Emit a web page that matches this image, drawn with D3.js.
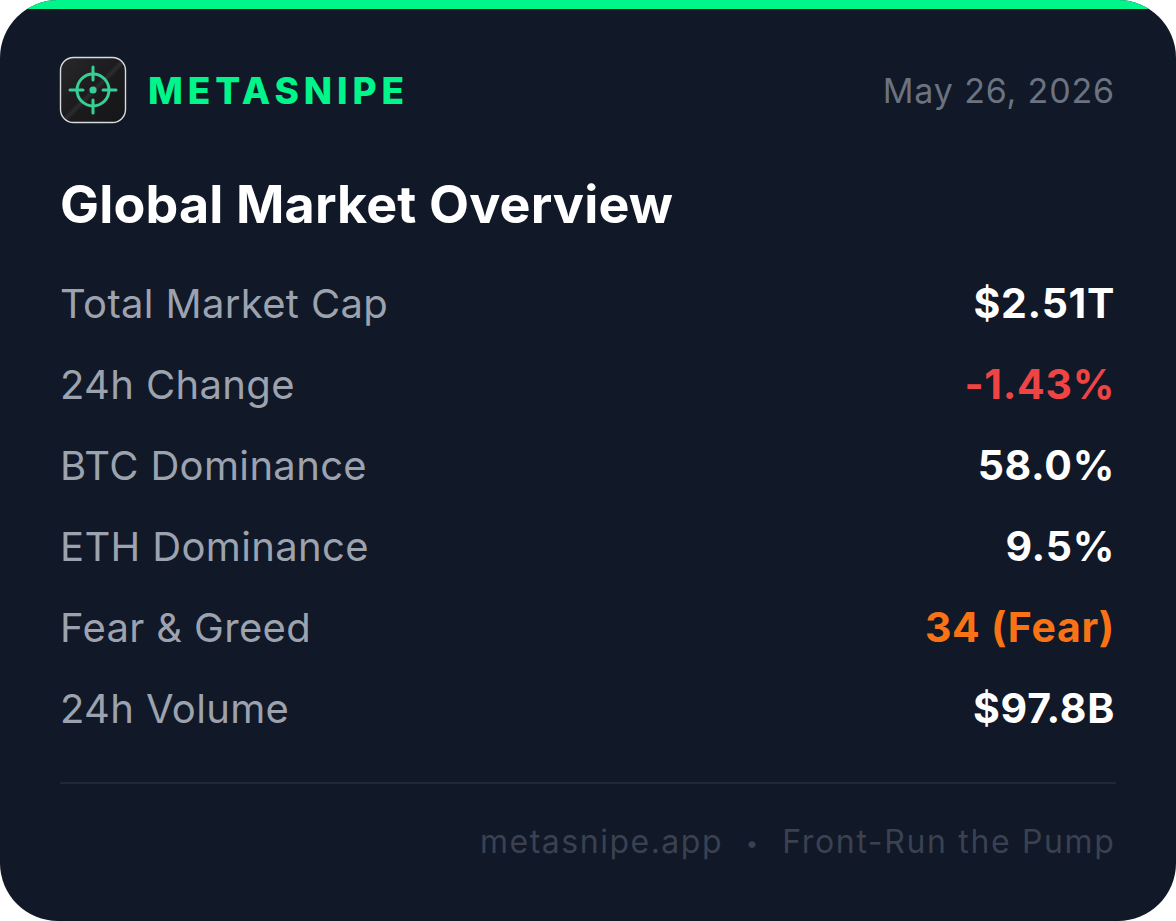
<!DOCTYPE html>
<html>
<head>
<meta charset="utf-8">
<script src="https://cdn.jsdelivr.net/npm/d3@7"></script>
<style>
  html, body { margin: 0; padding: 0; background: #fff; }
  svg { display: block; }
  text { font-family: Inter, sans-serif; }
</style>
</head>
<body>
<div id="card"></div>
<script>
const labels = ["Total Market Cap", "24h Change", "BTC Dominance", "ETH Dominance", "Fear & Greed", "24h Volume"];
const values = ["$2.51T", "-1.43%", "58.0%", "9.5%", "34 (Fear)", "$97.8B"];
const valueColors = ["#ffffff", "#ef4444", "#ffffff", "#ffffff", "#f97316", "#ffffff"];
const brand = "METASNIPE";
const dateLabel = "May 26, 2026";
const title = "Global Market Overview";
const footer = ["metasnipe.app", "•", "Front-Run the Pump"];

const width = 1176, height = 921;

const svg = d3.select('#card').append('svg')
  .attr('width', width)
  .attr('height', height);

const defs = svg.append('defs');
defs.append('clipPath').attr('id', 'cardClip')
  .append('rect')
  .attr('width', width).attr('height', height).attr('rx', 58);

const iconGrad = defs.append('linearGradient').attr('id', 'iconBg')
  .attr('x1', 0).attr('y1', 0).attr('x2', 1).attr('y2', 1);
iconGrad.append('stop').attr('offset', '0%').attr('stop-color', '#28282b');
iconGrad.append('stop').attr('offset', '47%').attr('stop-color', '#1c1c1f');
iconGrad.append('stop').attr('offset', '51%').attr('stop-color', '#2c2d30');
iconGrad.append('stop').attr('offset', '55%').attr('stop-color', '#1b1b1e');
iconGrad.append('stop').attr('offset', '100%').attr('stop-color', '#141518');

const card = svg.append('g').attr('clip-path', 'url(#cardClip)');
card.append('rect').attr('width', width).attr('height', height).attr('fill', '#111827');
card.append('rect').attr('width', width).attr('height', 9).attr('fill', '#00f58a');

// logo
const logo = svg.append('g').attr('transform', 'translate(93,90)');
logo.append('rect')
  .attr('x', -32.5).attr('y', -32.5).attr('width', 65).attr('height', 65).attr('rx', 13)
  .attr('fill', 'url(#iconBg)').attr('stroke', '#d8dadc').attr('stroke-width', 1.4);
logo.append('circle').attr('r', 16).attr('fill', 'none').attr('stroke', '#38cf94').attr('stroke-width', 3);
logo.append('circle').attr('r', 3.6).attr('fill', '#38cf94');
[[0, -23, 0, -10], [0, 10, 0, 23], [-23, 0, -10, 0], [10, 0, 23, 0]].forEach(t => {
  logo.append('line')
    .attr('x1', t[0]).attr('y1', t[1]).attr('x2', t[2]).attr('y2', t[3])
    .attr('stroke', '#38cf94').attr('stroke-width', 3).attr('stroke-linecap', 'round');
});

// header
svg.append('text').attr('x', 148).attr('y', 103.5)
  .attr('fill', '#00f58a').attr('font-size', 37).attr('font-weight', 800)
  .attr('letter-spacing', 4.9).text(brand);
svg.append('text').attr('x', 1115).attr('y', 103)
  .attr('text-anchor', 'end').attr('fill', '#6b7280').attr('font-size', 34)
  .attr('letter-spacing', 0.85).text(dateLabel);
svg.append('text').attr('x', 60).attr('y', 223)
  .attr('fill', '#ffffff').attr('font-size', 52).attr('font-weight', 700)
  .attr('letter-spacing', 0.15).text(title);

// rows
const y = d3.scalePoint().domain(labels).range([318, 723]);

svg.selectAll('text.label').data(labels).enter().append('text')
  .attr('class', 'label')
  .attr('x', 60).attr('y', d => y(d))
  .attr('fill', '#9ca3af').attr('font-size', 40).attr('letter-spacing', 0.35)
  .text(d => d);

svg.selectAll('text.value').data(values).enter().append('text')
  .attr('class', 'value')
  .attr('x', 1115).attr('y', (d, i) => y(labels[i]))
  .attr('text-anchor', 'end').attr('fill', (d, i) => valueColors[i])
  .attr('font-size', 41).attr('font-weight', 700).attr('letter-spacing', 0.7)
  .text(d => d);

svg.append('line').attr('x1', 60).attr('x2', 1116).attr('y1', 783).attr('y2', 783)
  .attr('stroke', '#1f2937').attr('stroke-width', 2);

// footer
svg.append('text').attr('x', 723).attr('y', 853)
  .attr('text-anchor', 'end').attr('fill', '#3a4150').attr('font-size', 32)
  .attr('letter-spacing', 1.5).text(footer[0]);
svg.append('text').attr('x', 752).attr('y', 851)
  .attr('text-anchor', 'middle').attr('fill', '#3a4150').attr('font-size', 22).text(footer[1]);
svg.append('text').attr('x', 1115.5).attr('y', 853)
  .attr('text-anchor', 'end').attr('fill', '#3a4150').attr('font-size', 32)
  .attr('letter-spacing', 1.65).text(footer[2]);
</script>
</body>
</html>
